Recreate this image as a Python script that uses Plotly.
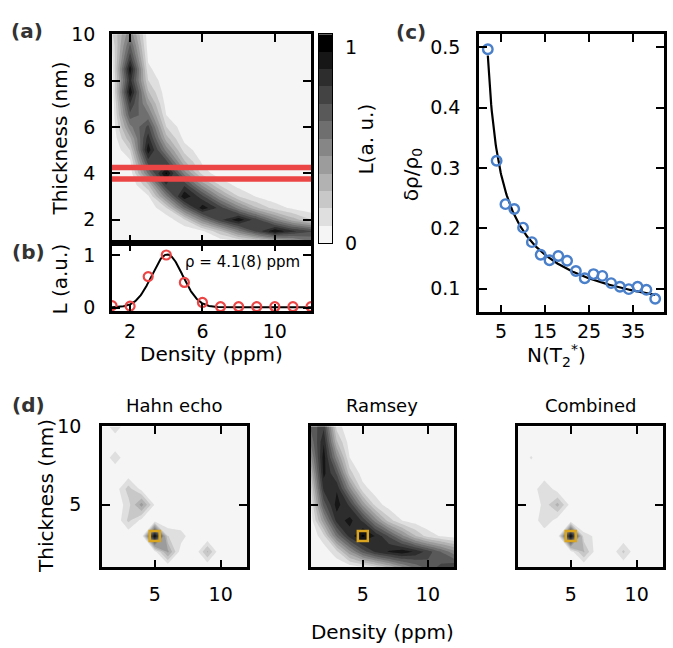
import numpy as np
import plotly.graph_objects as go

# ---------------- data ----------------
density = [1, 2, 3, 4, 5, 6, 7, 8, 9, 10, 11, 12]
thickness_a = [1.0, 1.5, 2.0, 2.5, 3.0, 3.5, 4.0, 4.5, 5.0, 5.5, 6.0, 6.5,
               7.0, 7.5, 8.0, 8.5, 9.0, 9.5, 10.0]
# likelihood map of panel (a): rows = thickness_a, columns = density
L_map_a = [
    [0, 0, 0, 0, 0, 0, 0, 0.03, 0.08, 0.18, 0.33, 0.50],
    [0, 0, 0, 0, 0.02, 0.07, 0.25, 0.50, 0.74, 0.97, 0.82, 0.72],
    [0, 0, 0, 0.03, 0.17, 0.50, 0.78, 0.96, 0.74, 0.50, 0.31, 0.18],
    [0, 0, 0.02, 0.17, 0.60, 0.95, 0.76, 0.50, 0.28, 0.14, 0.07, 0.03],
    [0, 0, 0.07, 0.50, 0.97, 0.74, 0.42, 0.18, 0.08, 0.03, 0, 0],
    [0, 0, 0.25, 0.80, 0.78, 0.42, 0.16, 0.05, 0.02, 0, 0, 0],
    [0, 0.03, 0.55, 1.0, 0.50, 0.14, 0.03, 0.01, 0, 0, 0, 0],
    [0, 0.07, 0.76, 0.74, 0.28, 0.07, 0.02, 0, 0, 0, 0, 0],
    [0, 0.18, 0.95, 0.50, 0.14, 0.03, 0, 0, 0, 0, 0, 0],
    [0, 0.33, 0.85, 0.31, 0.06, 0, 0, 0, 0, 0, 0, 0],
    [0, 0.50, 0.74, 0.18, 0.03, 0, 0, 0, 0, 0, 0, 0],
    [0, 0.68, 0.56, 0.09, 0.01, 0, 0, 0, 0, 0, 0, 0],
    [0, 0.80, 0.42, 0.05, 0, 0, 0, 0, 0, 0, 0, 0],
    [0.02, 0.96, 0.28, 0.03, 0, 0, 0, 0, 0, 0, 0, 0],
    [0.03, 0.84, 0.18, 0.02, 0, 0, 0, 0, 0, 0, 0, 0],
    [0.04, 0.95, 0.11, 0.01, 0, 0, 0, 0, 0, 0, 0, 0],
    [0.07, 0.76, 0.07, 0, 0, 0, 0, 0, 0, 0, 0, 0],
    [0.10, 0.64, 0.04, 0, 0, 0, 0, 0, 0, 0, 0, 0],
    [0.16, 0.52, 0.03, 0, 0, 0, 0, 0, 0, 0, 0, 0],
]
band_thickness = [3.75, 4.25]          # red cut lines in (a)

# panel (b): profile at thickness 4 nm
profile_density = [1, 2, 3, 4, 5, 6, 7, 8, 9, 10, 11, 12]
profile_L = [0.04, 0.03, 0.59, 1.0, 0.48, 0.10, 0.02, 0.02, 0.02, 0.02, 0.02, 0.02]
fit_center, fit_sigma, fit_amp, fit_offset = 4.05, 0.85, 1.0, 0.01

# panel (c)
n_t2 = [2, 4, 6, 8, 10, 12, 14, 16, 18, 20, 22, 24, 26, 28, 30, 32, 34, 36, 38, 40]
rel_err = [0.497, 0.312, 0.240, 0.232, 0.201, 0.177, 0.156, 0.147, 0.154, 0.146,
           0.129, 0.117, 0.124, 0.121, 0.109, 0.103, 0.099, 0.103, 0.098, 0.083]
pow_a, pow_p = 0.72, 0.565

# panel (d) maps on integer grid
thickness_d = [1, 2, 3, 4, 5, 6, 7, 8, 9, 10]
L_hahn = [
    [0, 0, 0, 0, 0, 0, 0, 0, 0, 0, 0, 0],
    [0, 0, 0, 0, 0.05, 0.38, 0.03, 0, 0.28, 0, 0, 0],
    [0, 0, 0.01, 0.01, 1.0, 0.18, 0.14, 0, 0, 0, 0, 0],
    [0, 0, 0.20, 0.06, 0.02, 0, 0, 0, 0, 0, 0, 0],
    [0, 0.01, 0.14, 0.40, 0.08, 0, 0, 0, 0, 0, 0, 0],
    [0, 0.03, 0.22, 0.06, 0, 0, 0, 0, 0, 0, 0, 0],
    [0, 0, 0.03, 0, 0, 0, 0, 0, 0, 0, 0, 0],
    [0, 0.15, 0, 0, 0, 0, 0, 0, 0, 0, 0, 0],
    [0, 0, 0, 0, 0, 0, 0, 0, 0, 0, 0, 0],
    [0, 0.16, 0, 0, 0, 0, 0, 0, 0, 0, 0, 0],
]
L_ramsey = [
    [0, 0, 0.01, 0.03, 0.07, 0.15, 0.27, 0.42, 0.55, 0.66, 0.74, 0.80],
    [0, 0.03, 0.15, 0.42, 0.66, 0.82, 0.90, 0.95, 0.88, 0.76, 0.62, 0.48],
    [0.01, 0.15, 0.55, 0.84, 1.0, 0.88, 0.70, 0.48, 0.28, 0.14, 0.08, 0.05],
    [0.03, 0.42, 0.84, 0.92, 0.78, 0.48, 0.22, 0.09, 0.04, 0.01, 0, 0],
    [0.07, 0.66, 0.93, 0.78, 0.42, 0.14, 0.04, 0.01, 0, 0, 0, 0],
    [0.15, 0.82, 0.88, 0.48, 0.13, 0.04, 0.01, 0, 0, 0, 0, 0],
    [0.27, 0.92, 0.70, 0.22, 0.04, 0.01, 0, 0, 0, 0, 0, 0],
    [0.42, 0.94, 0.48, 0.09, 0.01, 0, 0, 0, 0, 0, 0, 0],
    [0.55, 0.88, 0.28, 0.04, 0, 0, 0, 0, 0, 0, 0, 0],
    [0.64, 0.78, 0.14, 0.01, 0, 0, 0, 0, 0, 0, 0, 0],
]
L_combined = [
    [0, 0, 0, 0, 0, 0, 0, 0, 0, 0, 0, 0],
    [0, 0, 0, 0, 0.04, 0.28, 0.02, 0, 0.20, 0, 0, 0],
    [0, 0, 0.01, 0.01, 1.0, 0.12, 0.07, 0, 0, 0, 0, 0],
    [0, 0, 0.17, 0.04, 0.01, 0, 0, 0, 0, 0, 0, 0],
    [0, 0, 0.12, 0.30, 0.05, 0, 0, 0, 0, 0, 0, 0],
    [0, 0.02, 0.17, 0.04, 0, 0, 0, 0, 0, 0, 0, 0],
    [0, 0, 0.02, 0, 0, 0, 0, 0, 0, 0, 0, 0],
    [0, 0.10, 0, 0, 0, 0, 0, 0, 0, 0, 0, 0],
    [0, 0, 0, 0, 0, 0, 0, 0, 0, 0, 0, 0],
    [0, 0.09, 0, 0, 0, 0, 0, 0, 0, 0, 0, 0],
]
true_density, true_thickness = [5], [3]

# ---------------- styling ----------------
W, H = 673, 648
FONT = "DejaVu Sans"
N_LEVELS = 12
LEVEL_STEP = 0.0889
GREYS = [[0, "#f4f5f4"], [1, "#000000"]]
RED = "#ec4545"
BLUE = "#4a7fc9"
GOLD = "#d9a520"


def fx(x):
    return x / W


def fy(y):
    return 1 - y / H


def axstyle(**kw):
    d = dict(showline=True, linecolor="black", linewidth=2.5, mirror="ticks",
             ticks="inside", ticklen=8, tickwidth=2, tickcolor="black",
             showgrid=False, zeroline=False,
             tickfont=dict(size=19, family=FONT, color="black"))
    d.update(kw)
    return d


def contour(z, y, xa, ya):
    return go.Contour(
        x=density, y=y, z=z, xaxis=xa, yaxis=ya,
        colorscale=GREYS, showscale=False,
        contours=dict(start=LEVEL_STEP, end=(N_LEVELS - 1) * LEVEL_STEP,
                      size=LEVEL_STEP, coloring="fill", showlines=False),
        line=dict(width=0, smoothing=0), hoverinfo="skip")


fig = go.Figure()

# (a)
fig.add_trace(contour(L_map_a, thickness_a, "x", "y"))
for tb in band_thickness:
    fig.add_trace(go.Scatter(x=[density[0], density[-1]], y=[tb, tb], mode="lines",
                             line=dict(color=RED, width=5.5), xaxis="x", yaxis="y"))

# colorbar
fig.add_trace(go.Heatmap(
    x=[0], y=[(k + 0.5) * LEVEL_STEP for k in range(N_LEVELS)],
    z=[[k] for k in range(N_LEVELS)], zmin=0, zmax=N_LEVELS - 1,
    colorscale=GREYS, showscale=False, xaxis="x3", yaxis="y3", hoverinfo="skip"))

# (b)
xf = np.linspace(1, 12, 300)
yf = fit_offset + fit_amp * np.exp(-(xf - fit_center) ** 2 / (2 * fit_sigma ** 2))
fig.add_trace(go.Scatter(x=xf, y=yf, mode="lines", line=dict(color="black", width=2),
                         xaxis="x2", yaxis="y2"))
fig.add_trace(go.Scatter(x=profile_density, y=profile_L, mode="markers",
                         marker=dict(symbol="circle-open", size=9, color=RED,
                                     line=dict(width=2.2, color=RED)),
                         xaxis="x2", yaxis="y2"))

# (c)
nf = np.linspace(2, 40, 300)
fig.add_trace(go.Scatter(x=nf, y=pow_a * nf ** (-pow_p), mode="lines",
                         line=dict(color="black", width=2.2), xaxis="x4", yaxis="y4"))
fig.add_trace(go.Scatter(x=n_t2, y=rel_err, mode="markers",
                         marker=dict(symbol="circle-open", size=9.5, color=BLUE,
                                     line=dict(width=2.4, color=BLUE)),
                         xaxis="x4", yaxis="y4"))

# (d)
for z, xa, ya in [(L_hahn, "x5", "y5"), (L_ramsey, "x6", "y6"), (L_combined, "x7", "y7")]:
    fig.add_trace(contour(z, thickness_d, xa, ya))
    fig.add_trace(go.Scatter(x=true_density, y=true_thickness, mode="markers",
                             marker=dict(symbol="square-open", size=10, color=GOLD,
                                         line=dict(width=2.5, color=GOLD)),
                             xaxis=xa, yaxis=ya))

ya_dom = [fy(240), fy(24)]
layout = dict(
    width=W, height=H, margin=dict(l=0, r=0, t=0, b=0),
    paper_bgcolor="white", plot_bgcolor="white", showlegend=False,
    font=dict(family=FONT, size=19, color="black"),
    xaxis=axstyle(domain=[fx(112), fx(311)], range=[1, 12], tickvals=[2, 6, 10],
                  showticklabels=False, anchor="y"),
    yaxis=axstyle(domain=ya_dom, range=[1, 10], tickvals=[2, 4, 6, 8, 10],
                  anchor="x", ticklabelstandoff=10),
    xaxis2=axstyle(domain=[fx(112), fx(311)], range=[1, 12], tickvals=[2, 6, 10],
                   anchor="y2", ticklabelstandoff=1),
    yaxis2=axstyle(domain=[fy(311), fy(240)], range=[-0.07, 1.23], tickvals=[0, 1],
                   anchor="x2", ticklabelstandoff=10),
    xaxis3=dict(domain=[fx(319), fx(332)], range=[-0.5, 0.5], showticklabels=False,
                showline=True, mirror=True, linecolor="black", linewidth=1.3,
                ticks="", showgrid=False, zeroline=False, anchor="y3"),
    yaxis3=dict(domain=ya_dom, range=[0, N_LEVELS * LEVEL_STEP], tickvals=[0, 1],
                side="right", showline=True, mirror=True, linecolor="black",
                linewidth=1.3, ticks="", showgrid=False, zeroline=False, anchor="x3",
                tickfont=dict(size=19, family=FONT), ticklabelstandoff=8),
    xaxis4=axstyle(domain=[fx(479), fx(664)], range=[0, 42], tickvals=[5, 15, 25, 35],
                   anchor="y4", ticklabelstandoff=0),
    yaxis4=axstyle(domain=[fy(312), fy(24)], range=[0.0604, 0.522],
                   tickvals=[0.1, 0.2, 0.3, 0.4, 0.5], tickformat=".1f",
                   anchor="x4", ticklabelstandoff=12),
)
dpanels = [(102, 247), (310.7, 454), (518, 663)]
for i, (x0, x1) in enumerate(dpanels):
    n = 5 + i
    layout[f"xaxis{n}"] = axstyle(domain=[fx(x0), fx(x1)], range=[1, 12], tickvals=[5, 10],
                                  anchor=f"y{n}", ticklabelstandoff=8)
    layout[f"yaxis{n}"] = axstyle(domain=[fy(576), fy(430)], range=[1, 10], tickvals=[5, 10],
                                  anchor=f"x{n}", showticklabels=(i == 0),
                                  ticklabelstandoff=14)
layout["xaxis6"]["title"] = dict(text="Density (ppm)", standoff=22,
                                 font=dict(family=FONT, size=20, color="black"))
layout["xaxis6"]["automargin"] = False
fig.update_layout(**layout)


def ann(text, x, y, size=20, angle=0, bold=False, color="black"):
    fig.add_annotation(text=f"<b>{text}</b>" if bold else text,
                       x=fx(x), y=fy(y), xref="paper", yref="paper",
                       showarrow=False, textangle=angle, xanchor="center", yanchor="middle",
                       font=dict(family=FONT, size=size, color=color))


ann("(a)", 27, 21, 20, bold=True, color="#333333")
ann("(b)", 28, 249, 20, bold=True, color="#333333")
ann("(c)", 411, 22, 20, bold=True, color="#333333")
ann("(d)", 28, 408, 20, bold=True, color="#333333")
ann("Thickness (nm)", 60, 132, 20, angle=-90)
ann("L (a.u.)", 60, 278, 20, angle=-90)
ann("Density (ppm)", 211, 355, 20)
ann("L(a. u.)", 366, 132, 20, angle=-90)
ann("ρ = 4.1(8) ppm", 242, 260, 15)
ann("δρ/ρ<sub>0</sub>", 412, 170, 20, angle=-90)
ann("N(T<sub>2</sub><sup>*</sup>)", 556, 357, 20)
ann("Hahn echo", (102 + 247) / 2, 408, 18)
ann("Ramsey", (310.7 + 454) / 2, 408, 18)
ann("Combined", (518 + 663) / 2, 408, 18)
ann("Thickness (nm)", 46, 502, 20, angle=-90)

fig.write_html("out.html")
